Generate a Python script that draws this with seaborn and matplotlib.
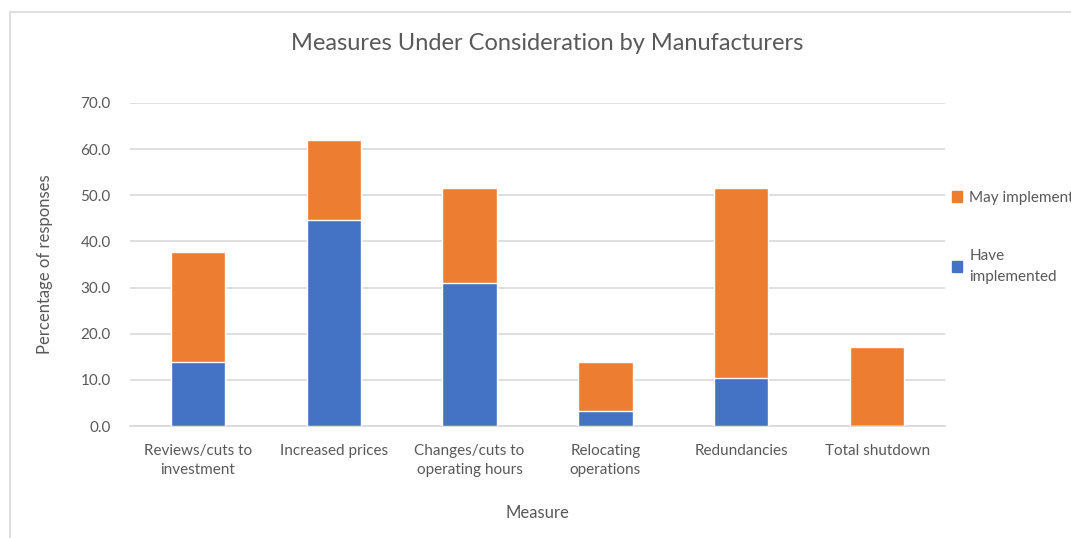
import matplotlib
matplotlib.use("Agg")
import matplotlib.pyplot as plt
from matplotlib.patches import Rectangle, Patch
from matplotlib.ticker import FormatStrFormatter
import seaborn as sns
import pandas as pd

categories = ["Reviews/cuts to\ninvestment", "Increased prices", "Changes/cuts to\noperating hours",
              "Relocating\noperations", "Redundancies", "Total shutdown"]
have_implemented = [13.9, 44.6, 30.9, 3.3, 10.3, 0.0]
may_implement = [23.9, 17.4, 20.7, 10.5, 41.3, 17.1]

BLUE = "#4472C4"
ORANGE = "#ED7D31"
TXT = "#595959"

sns.set_theme(style="white")
plt.rcParams['font.family'] = ['Lato', 'DejaVu Sans']

df = pd.DataFrame({
    "Measure": categories,
    "Have": have_implemented,
    "Total": [h + m for h, m in zip(have_implemented, may_implement)],
})

fig = plt.figure(figsize=(10.71, 5.38), dpi=100)
ax = fig.add_axes([130/1071, 1 - 426/538, 815/1071, 323/538])

sns.barplot(data=df, x="Measure", y="Total", color=ORANGE, saturation=1, width=0.4, ax=ax, zorder=3)
sns.barplot(data=df, x="Measure", y="Have", color=BLUE, saturation=1, width=0.4, ax=ax, zorder=4)

ax.set_ylim(0, 70)
ax.set_xlim(-0.5, 5.5)
ax.set_yticks(range(0, 71, 10))
ax.yaxis.set_major_formatter(FormatStrFormatter("%.1f"))
ax.grid(axis="y", color="#D9D9D9", linewidth=1.2, zorder=0)
ax.set_axisbelow(True)
for s in ["top", "right", "left"]:
    ax.spines[s].set_visible(False)
ax.spines["bottom"].set_color("#D9D9D9")
ax.spines["bottom"].set_linewidth(1.2)
ax.tick_params(axis="both", length=0, colors=TXT, labelsize=11)
ax.tick_params(axis="y", pad=14)
ax.tick_params(axis="x", pad=13)
for lab in ax.get_xticklabels():
    lab.set_linespacing(1.45)
ax.set_xlabel("Measure", fontsize=12, color=TXT, labelpad=20)
ax.set_ylabel("Percentage of responses", fontsize=12, color=TXT, labelpad=20)

fig.text(547/1071, 1 - 44/538, "Measures Under Consideration by Manufacturers",
         ha="center", va="center", fontsize=17, color=TXT)

handles = [Patch(color=ORANGE), Patch(color=BLUE)]
leg = fig.legend(handles, ["May implement", "Have\nimplemented"], loc="upper left",
                 bbox_to_anchor=(938/1071, 1 - 177/538), frameon=False, fontsize=11,
                 labelcolor=TXT, handlelength=0.7, handleheight=0.7, handletextpad=0.45,
                 labelspacing=2.9)
for t in leg.get_texts():
    t.set_linespacing(1.6)

fig.patches.append(Rectangle((9.5/1071, -0.05), 1.0, 1.05 - 12/538, transform=fig.transFigure,
                             fill=False, edgecolor="#D9D9D9", linewidth=1.2))

fig.savefig("out.png", dpi=100)
